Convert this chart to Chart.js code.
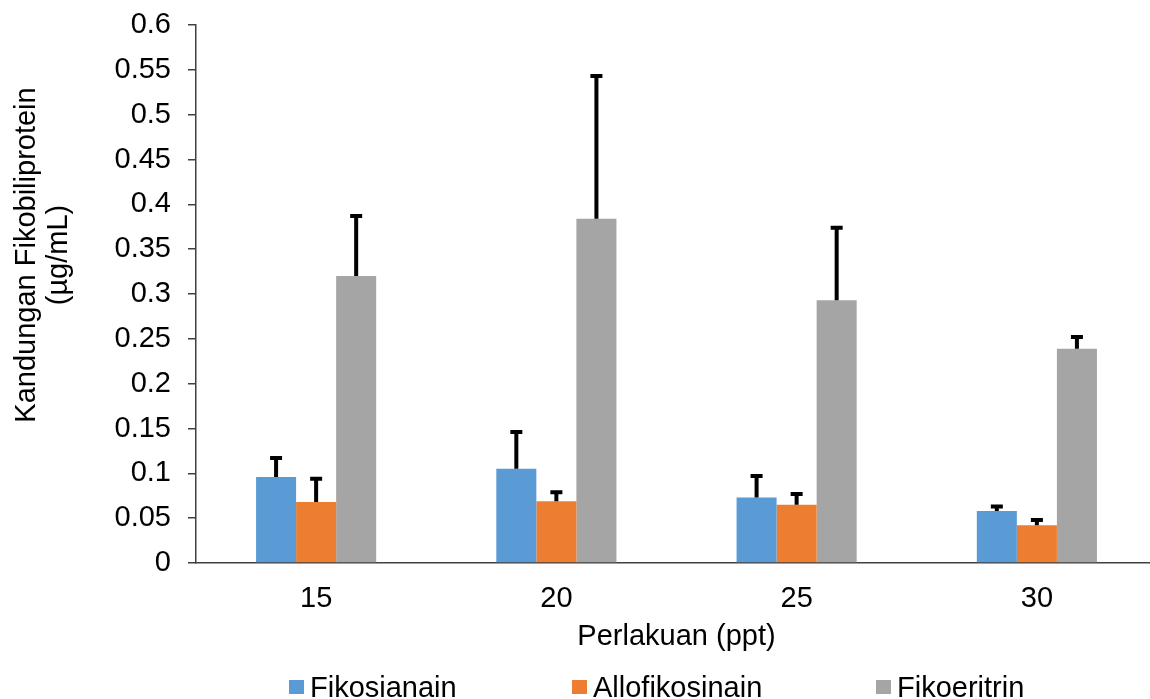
<!DOCTYPE html>
<html>
<head>
<meta charset="utf-8">
<script src="https://cdn.jsdelivr.net/npm/chart.js"></script>
<style>
  html, body { margin: 0; padding: 0; background: #fff; overflow: hidden; }
  #wrap { position: relative; width: 1150px; height: 699px; overflow: hidden; }
  #legend { position: absolute; top: 673px; left: 0; width: 1150px; height: 28px;
            font-family: "Liberation Sans", Arial, sans-serif; font-size: 29px; line-height: 28px; color: #000; }
  .item { position: absolute; top: 0; display: flex; align-items: center; white-space: nowrap; }
  .item:nth-child(1) { left: 289px; }
  .item:nth-child(2) { left: 572px; }
  .item:nth-child(3) { left: 876px; }
  .box { width: 15px; height: 14px; margin-right: 6px; }
</style>
</head>
<body>
<div id="wrap">
  <canvas id="chart" width="1160" height="699"></canvas>
  <div id="legend"></div>
</div>
<script>
const categories = ['15', '20', '25', '30'];
const seriesNames = ['Fikosianain', 'Allofikosinain', 'Fikoeritrin'];
const fikosianain = [0.096, 0.105, 0.073, 0.058];
const allofikosinain = [0.068, 0.069, 0.065, 0.042];
const fikoeritrin = [0.320, 0.384, 0.293, 0.239];
const errFikosianain = [0.021, 0.041, 0.024, 0.005];
const errAllofikosinain = [0.026, 0.010, 0.012, 0.006];
const errFikoeritrin = [0.067, 0.159, 0.081, 0.013];
const yTickLabels = ['0', '0.05', '0.1', '0.15', '0.2', '0.25', '0.3', '0.35', '0.4', '0.45', '0.5', '0.55', '0.6'];
const colors = ['#5B9BD5', '#ED7D31', '#A5A5A5'];

const FONT = '"Liberation Sans", Arial, sans-serif';
const SIZE = 29;

// error bars drawn on top of the bars (positive direction only)
const errorBars = {
    id: 'errorBars',
    afterDatasetsDraw(chart) {
        const ctx = chart.ctx;
        const y = chart.scales.y;
        ctx.save();
        ctx.strokeStyle = '#000';
        ctx.lineWidth = 4;
        chart.data.datasets.forEach((ds, i) => {
            const meta = chart.getDatasetMeta(i);
            meta.data.forEach((bar, j) => {
                const top = y.getPixelForValue(ds.data[j] + ds.errors[j]);
                ctx.beginPath();
                ctx.moveTo(bar.x, bar.y);
                ctx.lineTo(bar.x, top);
                ctx.moveTo(bar.x - 6, top);
                ctx.lineTo(bar.x + 6, top);
                ctx.stroke();
            });
        });
        ctx.restore();
    }
};

// two-line rotated y axis title
const yTitle = {
    id: 'yTitle',
    afterDraw(chart) {
        const ctx = chart.ctx;
        ctx.save();
        ctx.fillStyle = '#000';
        ctx.font = SIZE + 'px ' + FONT;
        ctx.textAlign = 'center';
        ctx.textBaseline = 'alphabetic';
        [['Kandungan Fikobiliprotein', 35], ['(µg/mL)', 67]].forEach(([txt, x]) => {
            ctx.save();
            ctx.translate(x, 255);
            ctx.rotate(-Math.PI / 2);
            ctx.fillText(txt, 0, 0);
            ctx.restore();
        });
        ctx.restore();
    }
};

const chart = new Chart(document.getElementById('chart').getContext('2d'), {
    type: 'bar',
    data: {
        labels: categories,
        datasets: [
            { label: seriesNames[0], data: fikosianain, errors: errFikosianain, backgroundColor: colors[0] },
            { label: seriesNames[1], data: allofikosinain, errors: errAllofikosinain, backgroundColor: colors[1] },
            { label: seriesNames[2], data: fikoeritrin, errors: errFikoeritrin, backgroundColor: colors[2] }
        ]
    },
    options: {
        responsive: false,
        animation: false,
        devicePixelRatio: 1,
        layout: { padding: { top: 25, right: 3, bottom: 45, left: 0 } },
        datasets: { bar: { categoryPercentage: 0.5, barPercentage: 1.0 } },
        plugins: {
            legend: { display: false },
            tooltip: { enabled: false }
        },
        scales: {
            x: {
                grid: { display: false, drawTicks: false },
                border: { color: '#404040', width: 1.5 },
                ticks: { color: '#000', font: { family: FONT, size: SIZE }, padding: 19 },
                title: {
                    display: true,
                    text: 'Perlakuan (ppt)',
                    color: '#000',
                    font: { family: FONT, size: SIZE },
                    padding: { top: 0, bottom: 0 }
                },
                afterFit(scale) {
                    scale.height = 91;
                    scale.paddingLeft = 0;
                    scale.paddingRight = 0;
                }
            },
            y: {
                min: 0,
                max: 0.6,
                ticks: {
                    stepSize: 0.05,
                    color: '#000',
                    font: { family: FONT, size: SIZE },
                    padding: 17,
                    callback: (v, i) => yTickLabels[i]
                },
                grid: { drawOnChartArea: false, tickLength: 8, color: '#404040', lineWidth: 1.5 },
                border: { color: '#404040', width: 1.5 },
                afterFit(scale) {
                    scale.width = 196;
                    scale.paddingTop = 0;
                    scale.paddingBottom = 0;
                }
            }
        }
    },
    plugins: [errorBars, yTitle]
});

// html legend built from the datasets
const legend = document.getElementById('legend');
chart.data.datasets.forEach(ds => {
    const item = document.createElement('div');
    item.className = 'item';
    const box = document.createElement('span');
    box.className = 'box';
    box.style.background = ds.backgroundColor;
    const txt = document.createElement('span');
    txt.textContent = ds.label;
    item.appendChild(box);
    item.appendChild(txt);
    legend.appendChild(item);
});
</script>
</body>
</html>
